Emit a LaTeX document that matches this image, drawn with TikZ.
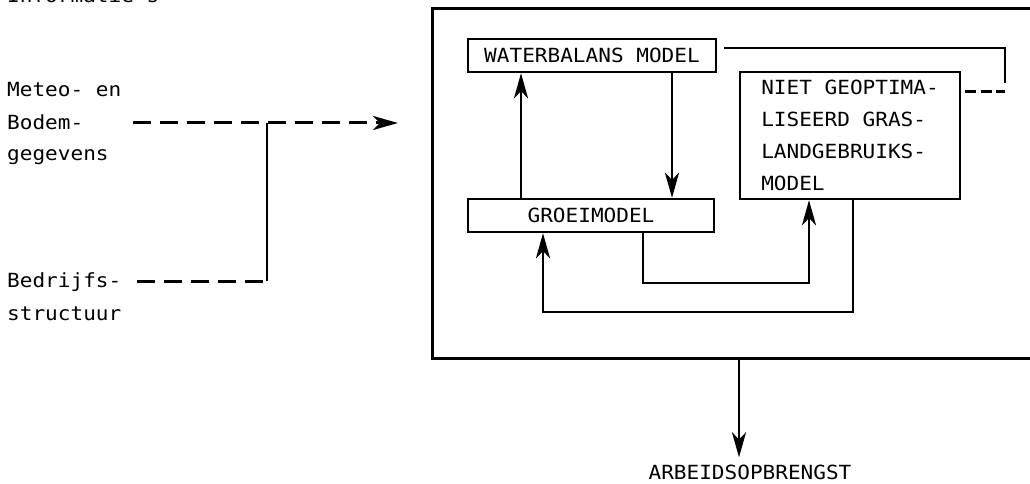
\documentclass[tikz,border=0pt]{standalone}
\usepackage{fontspec}
\setmonofont[FakeStretch=1.08]{DejaVu Sans Mono}
\usetikzlibrary{arrows.meta}
\begin{document}
\begin{tikzpicture}[x=1pt,y=-1pt,
  txt/.style={font=\ttfamily\fontsize{19.5}{32}\selectfont, inner sep=0pt},
  lbl/.style={txt, anchor=base west},
  modbox/.style={draw, line width=2.4pt, inner sep=0pt, txt},
  ln/.style={line width=2.6pt},
  tip/.style={-{Stealth[length=25pt,width=14pt,inset=7pt]}},
  arr/.style={ln, tip},
  dsh/.style={line width=3pt, dash pattern=on 18pt off 9pt},
  dshs/.style={line width=3pt, dash pattern=on 11pt off 4.5pt},
]
\clip (0,0) rectangle (1030,484);
% left labels
\node[lbl] (info) at (7,3) {Informatie's};
\node[lbl] (meteo) at (7,97) {Meteo- en};
\node[lbl] (bodem) at (7,130) {Bodem-};
\node[lbl] (gegev) at (7,160) {gegevens};
\node[lbl] (bedr) at (7,287) {Bedrijfs-};
\node[lbl] (struc) at (7,320) {structuur};
% frame and model boxes
\node[draw, line width=2.6pt, inner sep=0pt, anchor=north west,
      minimum width=640pt, minimum height=350pt] (frame) at (431,7) {};
\node[modbox, minimum width=248pt, minimum height=33pt] (wb) at (592,55.5) {WATERBALANS MODEL};
\node[modbox, minimum width=246pt, minimum height=33pt] (gr) at (591,215.5) {GROEIMODEL};
\node[modbox, minimum width=220pt, minimum height=127pt, align=left] (niet) at (850,135.5)
  {NIET GEOPTIMA-\\LISEERD GRAS-\\LANDGEBRUIKS-\\MODEL};
\node[txt, anchor=base] (arb) at (750,479) {ARBEIDSOPBRENGST};
% input connectors
\coordinate (d1) at (133,123);
\coordinate (d2) at (398,123);
\coordinate (j1) at (267,123);
\coordinate (j2) at (267,281);
\coordinate (d3) at (137,281);
\draw[dsh, tip] (d1) -- (d2);
\draw[ln] (j1) -- (j2);
\draw[dsh] (d3) -- (j2);
% internal connectors
\coordinate (xa) at (521,0);
\coordinate (xb) at (672,0);
\coordinate (xc) at (643,0);
\coordinate (xd) at (809,0);
\coordinate (xe) at (853,0);
\coordinate (xf) at (543,0);
\draw[arr] (gr.north -| xa) -- (wb.south -| xa);
\draw[arr] (wb.south -| xb) -- (gr.north -| xb);
\draw[arr] (gr.south -| xc) -- (643,283) -- (809,283) -- (niet.south -| xd);
\draw[arr] (niet.south -| xe) -- (853,312) -- (543,312) -- (gr.south -| xf);
% link at top right
\coordinate (t1) at (724,48);
\coordinate (t2) at (1005,83);
\draw[ln] (t1) -- (1005,48) -- (t2);
\coordinate (s1) at (965,92);
\coordinate (s2) at (1005,92);
\draw[dshs] (s1) -- (s2);
% output
\coordinate (o1) at (739,357);
\draw[arr] (o1) -- ([yshift=7pt]o1 |- arb.north);
\end{tikzpicture}
\end{document}
